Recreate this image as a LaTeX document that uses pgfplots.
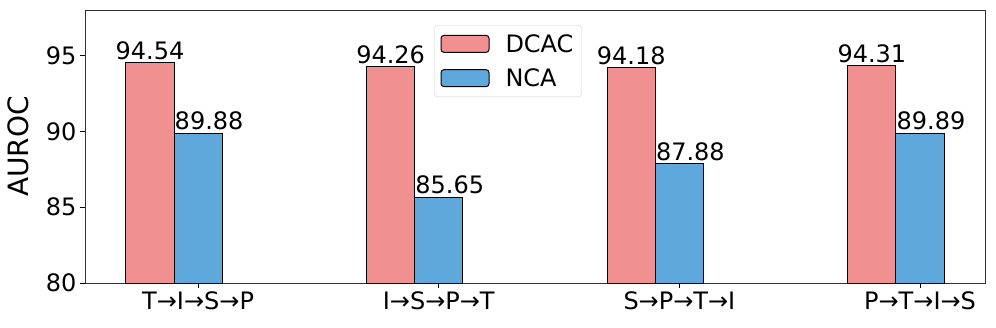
\documentclass[border=0pt]{standalone}
\usepackage{fontspec}
\setmainfont{DejaVu Sans}
\usepackage{pgfplots}
\pgfplotsset{compat=1.18}
\definecolor{dcac}{RGB}{240,144,144}
\definecolor{nca}{RGB}{95,168,220}
\begin{document}
\begin{tikzpicture}
\begin{axis}[
 at={(0,0)}, anchor=south west,
 scale only axis, width=900pt, height=273pt,
 xmin=-0.47, xmax=3.27, ymin=80, ymax=98,
 ytick={80,85,90,95}, xtick={0,1,2,3},
 xticklabels={T→I→S→P, I→S→P→T, S→P→T→I, P→T→I→S},
 tick pos=left, tick align=outside, major tick length=5pt,
 tick style={black, line width=0.8pt},
 axis line style={line width=0.8pt, black!80},
 ticklabel style={font=\fontsize{24}{28}\selectfont},
 /pgf/number format/assume math mode=true,
 ylabel={AUROC}, ylabel style={font=\fontsize{28}{32}\selectfont, yshift=10pt},
 ybar, bar width=0.2,
 point meta=explicit symbolic,
 nodes near coords,
 nodes near coords style={font=\fontsize{24}{28}\selectfont, anchor=south, inner sep=2.5pt, black},
 legend style={at={(0.47,0.945)}, anchor=north, draw=black!20, rounded corners=3pt,
   font=\fontsize{24}{28}\selectfont, inner xsep=6pt, inner ysep=7pt, row sep=11pt,
   /tikz/every odd column/.append style={column sep=14pt}},
 legend cell align=left,
 legend image code/.code={\draw[#1] (0pt,-8.5pt) rectangle (48pt,8.5pt);},
]
\addplot[bar shift=0pt, fill=dcac, draw=black, line width=1pt]
 coordinates {(-0.2,94.54) [94.54] (0.8,94.26) [94.26] (1.8,94.18) [94.18] (2.8,94.31) [94.31]};
\addplot[bar shift=0pt, fill=nca, draw=black, line width=1pt,
 nodes near coords style={xshift=11pt}]
 coordinates {(0,89.88) [89.88] (1,85.65) [85.65] (2,87.88) [87.88] (3,89.89) [89.89]};
\legend{DCAC,NCA}
\end{axis}
\pgfresetboundingbox
\path[use as bounding box] (-85pt,-44pt) rectangle (911pt,283pt);
\end{tikzpicture}
\end{document}
